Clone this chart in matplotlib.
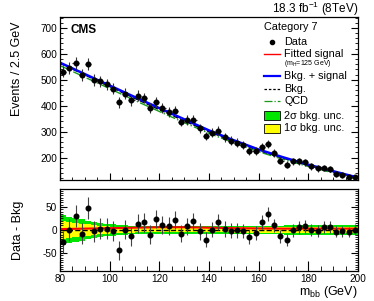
import numpy as np
import matplotlib
matplotlib.use("Agg")
import matplotlib.pyplot as plt
from matplotlib.patches import Rectangle
from matplotlib.ticker import MultipleLocator

plt.rcParams['font.family'] = ['Liberation Sans', 'DejaVu Sans']
plt.rcParams['mathtext.fontset'] = 'custom'
plt.rcParams['mathtext.rm'] = 'Liberation Sans'
plt.rcParams['mathtext.it'] = 'Liberation Sans:italic'
plt.rcParams['axes.unicode_minus'] = False

# binning: 2.5 GeV bins from 80 to 200 GeV
bin_width = 2.5
edges = np.arange(80, 200 + bin_width / 2, bin_width)
centers = edges[:-1] + bin_width / 2

# observed events per bin
data = [532, 547, 566, 517, 561, 500, 494, 483, 465, 413, 447, 421,
        438, 430, 392, 415, 390, 377, 380, 339, 345, 345, 313, 284,
        296, 304, 279, 266, 258, 248, 226, 226, 241, 252, 219, 188,
        173, 187, 187, 182, 167, 159, 161, 156, 138, 133, 125, 124]

# data - bkg per bin
resid = [-26, 0, 30, -8, 47, -3, 3, 3, -3, -44, 1, -14,
         14, 17, -10, 24, 10, 8, 22, -8, 8, 19, -3, -21,
         1, 18, 2, -2, -1, -2, -15, -6, 17, 35, 10, -14,
         -22, -1, 6, 8, 0, -2, 6, 7, -4, -3, -5, 1]

# fit curves
curve_x = [80, 90, 100, 110, 120, 130, 140, 150, 160, 170, 180, 190, 200]
bkg = [564, 519, 474, 429, 385, 342, 300, 263, 228, 198, 170, 145, 120]
signal = [2, 3, 4, 5, 6, 6, 5, 4, 3.5, 3, 3, 3, 3]
qcd = [555, 510, 466, 421, 378, 335, 294, 257, 223, 193, 166, 141, 116]

# background uncertainty bands (half widths per bin)
band_2s = [32, 29, 26, 23, 20.5, 18, 16, 14, 12.5, 11, 10, 9.5,
           9, 9, 9, 9, 9, 9, 9, 9, 9, 9, 9, 9,
           9, 9, 9, 9, 9.5, 9.5, 9.5, 9.5, 9.5, 9.5, 9.5, 9.5,
           10, 10, 10, 10, 10, 10, 10, 10, 10, 10, 10, 10]
band_1s = [20, 18, 16, 14, 12.5, 11, 9.5, 8.5, 7.5, 6.5, 6, 5.5,
           5, 5, 5, 5, 5, 5, 5, 5, 5, 5, 5, 5,
           5, 5, 5, 5, 5.5, 5.5, 5.5, 5.5, 5.5, 5.5, 5.5, 5.5,
           6, 6, 6, 6, 6, 6, 6, 6, 6, 6, 6, 6]

data = np.array(data)
resid = np.array(resid)
err = np.sqrt(data)
band_2s = np.array(band_2s)
band_1s = np.array(band_1s)

fig = plt.figure(figsize=(3.74, 3.01), dpi=100)
ax1 = fig.add_axes([60 / 374, 1 - 180 / 301, 298 / 374, 163 / 301])
ax2 = fig.add_axes([60 / 374, 1 - 271 / 301, 298 / 374, 82 / 301])

green = '#00e600'
yellow = '#ffff00'

# top panel
ax1.plot(curve_x, qcd, color='#1a9a1a', ls='-.', lw=1.0)
ax1.plot(curve_x, bkg, color='black', ls='--', lw=1.0)
ax1.plot(curve_x, np.array(bkg) + np.array(signal), color='#0000ff', lw=1.8)
ax1.errorbar(centers, data, yerr=err, xerr=bin_width / 2, fmt='o', ms=3.3,
             color='black', ecolor='#333333', elinewidth=0.8, capsize=0, zorder=5)
ax1.set_xlim(80, 200)
ax1.set_ylim(114, 742)
ax1.xaxis.set_major_locator(MultipleLocator(20))
ax1.xaxis.set_minor_locator(MultipleLocator(5))
ax1.yaxis.set_major_locator(MultipleLocator(100))
ax1.yaxis.set_minor_locator(MultipleLocator(20))
ax1.set_yticks([200, 300, 400, 500, 600, 700])
ax1.tick_params(labelbottom=False)

# bottom panel
ax2.stairs(band_2s, edges, baseline=-band_2s, fill=True, color=green, lw=0)
ax2.stairs(band_1s, edges, baseline=-band_1s, fill=True, color=yellow, lw=0)
ax2.axhline(0, color='black', ls='--', lw=1.0)
ax2.plot(curve_x, signal, color='#ff0000', lw=1.5)
ax2.errorbar(centers, resid, yerr=err, fmt='o', ms=3.3, color='black',
             ecolor='#444444', elinewidth=0.8, capsize=0, zorder=5)
ax2.set_xlim(80, 200)
ax2.set_ylim(-89, 89)
ax2.xaxis.set_major_locator(MultipleLocator(20))
ax2.xaxis.set_minor_locator(MultipleLocator(5))
ax2.yaxis.set_major_locator(MultipleLocator(50))
ax2.yaxis.set_minor_locator(MultipleLocator(5))

for ax in (ax1, ax2):
    ax.tick_params(which='both', direction='in', right=True, top=False,
                   labelsize=7.2, colors='black')
    ax.tick_params(which='major', length=5, width=0.8)
    ax.tick_params(which='minor', length=2.5, width=0.6)
    ax.tick_params(axis='y', pad=2)
    ax.tick_params(axis='x', pad=2)
    for s in ax.spines.values():
        s.set_linewidth(0.9)
ax2.tick_params(axis='x', which='major', length=7)
ax2.tick_params(axis='x', which='minor', length=3.5)

# labels
fig.text(17.5 / 374, 1 - 69 / 301, 'Events / 2.5 GeV', rotation=90,
         ha='center', va='center', fontsize=9)
fig.text(17.5 / 374, 1 - 230 / 301, 'Data - Bkg', rotation=90,
         ha='center', va='center', fontsize=9)
fig.text(358 / 374, 1 - 292 / 301, r'm$_{\rm bb}$ (GeV)', ha='right',
         va='center', fontsize=9)
fig.text(358 / 374, 1 - 9 / 301, r'18.3 fb$^{-1}$ (8TeV)', ha='right',
         va='center', fontsize=8.5)
ax1.text(0.034, 0.92, 'CMS', transform=ax1.transAxes, fontsize=8.5,
         fontweight='bold', ha='left', va='center')

# legend
tr = ax1.transAxes
x0, x1, xm, xt = 0.685, 0.738, 0.711, 0.752
ax1.text(0.685, 0.939, 'Category 7', transform=tr, fontsize=7.8, va='center')
ax1.plot([xm], [0.848], 'o', color='black', ms=3, transform=tr)
ax1.text(xt, 0.848, 'Data', transform=tr, fontsize=7.8, va='center')
ax1.plot([x0, x1], [0.773, 0.773], color='#ff0000', lw=1.0, transform=tr)
ax1.text(xt, 0.773, 'Fitted signal', transform=tr, fontsize=7.8, va='center')
ax1.text(xt, 0.716, r'(m$_{\rm H}$=125 GeV)', transform=tr, fontsize=5,
         va='center')
ax1.plot([x0, x1], [0.638, 0.638], color='#0000ff', lw=1.6, transform=tr)
ax1.text(xt, 0.638, 'Bkg. + signal', transform=tr, fontsize=7.8, va='center')
ax1.plot([x0, x1], [0.558, 0.558], color='black', ls='--', lw=0.9,
         transform=tr, dashes=(2, 1.5))
ax1.text(xt, 0.558, 'Bkg.', transform=tr, fontsize=7.8, va='center')
ax1.plot([x0, x1], [0.485, 0.485], color='#1a9a1a', ls='-.', lw=0.9,
         transform=tr)
ax1.text(xt, 0.485, 'QCD', transform=tr, fontsize=7.8, va='center')
ax1.add_patch(Rectangle((x0, 0.393 - 0.0276), 0.0537, 0.055, transform=tr,
                        facecolor=green, edgecolor='black', lw=0.6))
ax1.text(xt, 0.393, '2σ bkg. unc.', transform=tr, fontsize=7.8, va='center')
ax1.add_patch(Rectangle((x0, 0.319 - 0.0276), 0.0537, 0.055, transform=tr,
                        facecolor=yellow, edgecolor='black', lw=0.6))
ax1.text(xt, 0.319, '1σ bkg. unc.', transform=tr, fontsize=7.8, va='center')

fig.savefig('out.png', dpi=100)
